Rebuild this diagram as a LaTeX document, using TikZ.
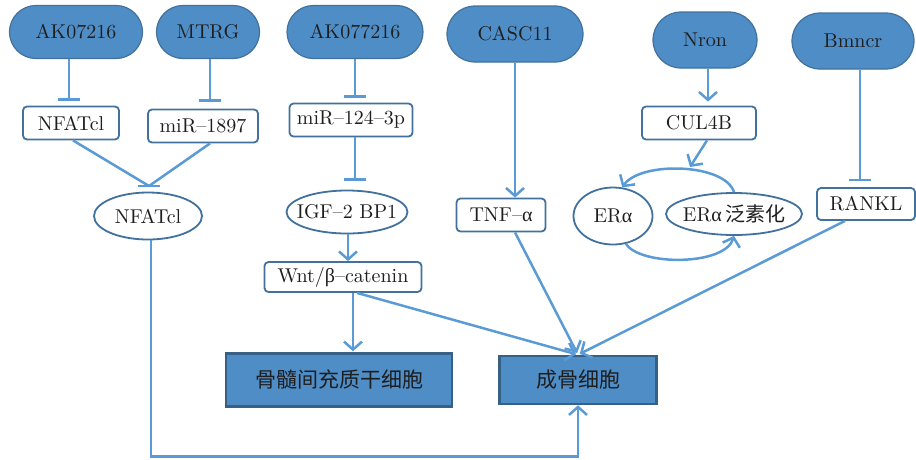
\documentclass[tikz,border=0pt]{standalone}
\usepackage{fontspec}
\setmainfont{lmroman10-regular}[Extension=.otf]
\newfontfamily\cjk{Noto Sans CJK SC}
\newfontfamily\grk{Liberation Serif}
\usetikzlibrary{arrows.meta,shapes.geometric,shapes.misc}
\definecolor{lnc}{HTML}{5B9BD5}
\definecolor{bdc}{HTML}{41719C}
\definecolor{fillc}{HTML}{4F8DC7}
\definecolor{txt}{HTML}{1E1E1E}
\begin{document}
\begin{tikzpicture}[x=1pt,y=-1pt,
 base/.style={text=txt, font=\fontsize{20}{23}\selectfont, inner sep=0pt},
 topel/.style={base, rounded rectangle, draw=bdc, line width=1.2pt, fill=fillc, minimum height=53pt},
 wbox/.style={base, draw=bdc, line width=1.8pt, fill=white, rounded corners=4pt, minimum height=33pt},
 wel/.style={base, ellipse, draw=bdc, line width=1.8pt, fill=white},
 bbox/.style={base, draw=bdc!85!black, line width=2.5pt, fill=fillc, font=\cjk\fontsize{21}{24}\selectfont},
 conn/.style={draw=lnc, line width=2.5pt},
 arr/.style={conn, -{Straight Barb[length=8pt,width=18pt]}},
 inh/.style={conn, -{Bar[width=22pt]}},
]
\useasboundingbox (0,0) rectangle (916,459);

% top row
\node[topel, minimum width=133pt] (ak1) at (76,32) {AK07216};
\node[topel, minimum width=103pt] (mtrg) at (208,32) {MTRG};
\node[topel, minimum width=136pt] (ak2) at (355,32) {AK077216};
\node[topel, minimum width=136pt, minimum height=56pt] (casc) at (515,34) {CASC11};
\node[topel, minimum width=104pt, minimum height=56pt] (nron) at (705,40) {Nron};
\node[topel, minimum width=122pt, minimum height=56pt] (bmn) at (853,41) {Bmncr};

% second row
\node[wbox, minimum width=96pt] (nfA) at (71,123) {NFATcl};
\node[wbox, minimum width=110pt] (mir1) at (203,126) {miR--1897};
\node[wbox, minimum width=123pt] (mir2) at (351,120) {miR--124--3p};
\node[wbox, minimum width=114pt] (cul) at (699,123) {CUL4B};

% third row
\node[wel, minimum width=108pt, minimum height=47pt] (nfB) at (148,216) {\makebox[0pt]{NFATcl}};
\node[wel, minimum width=121pt, minimum height=43pt] (igf) at (347,212) {\makebox[0pt]{IGF--2 BP1}};
\node[wbox, minimum width=89pt] (tnf) at (501,215) {TNF--{\grk α}};
\node[wel, minimum width=79pt, minimum height=57pt] (era) at (613,216) {\makebox[0pt]{ER{\grk α}}};
\node[wel, minimum width=136pt, minimum height=42pt] (eru) at (734,214) {\makebox[0pt]{ER{\grk α}\,{\cjk 泛素化}}};
\node[wbox, minimum width=98pt, minimum height=32pt] (rankl) at (866,204) {RANKL};
\node[wbox, minimum width=157pt, minimum height=30pt] (wnt) at (343,277) {Wnt/{\grk β}--catenin};

% bottom
\node[bbox, minimum width=226pt, minimum height=53pt] (bm) at (339,380) {骨髓间充质干细胞};
\node[bbox, minimum width=157pt, minimum height=48pt] (ob) at (578,380) {成骨细胞};

% connectors
\draw[inh, shorten >=5pt] ([xshift=-7pt]ak1.south) -- ([xshift=-7pt]ak1.south |- nfA.north);
\draw[inh, shorten >=7pt] ([xshift=2pt]mtrg.south) -- ([xshift=2pt]mtrg.south |- mir1.north);
\draw[inh, shorten >=5pt] (ak2.south) -- (ak2.south |- mir2.north);
\draw[inh, shorten >=9pt] ([xshift=4pt]mir2.south) -- ([xshift=4pt]mir2.south |- igf.north);

\coordinate (jn) at (149,186);
\draw[conn] ([xshift=2pt]nfA.south) -- (jn);
\draw[conn] ([xshift=7pt]mir1.south) -- (jn);
\draw[conn] ([xshift=-11pt]jn) -- ([xshift=11pt]jn);

\draw[arr] ([xshift=1pt]igf.south) -- ([xshift=1pt]igf.south |- wnt.north);
\draw[arr, shorten >=1pt] ([xshift=10pt]wnt.south) -- ([xshift=10pt]wnt.south |- bm.north);
\draw[arr, shorten >=2pt] ([xshift=14pt]wnt.south) -- (ob.north);
\draw[arr] (casc.south) -- (casc.south |- tnf.north);
\draw[arr, shorten >=2pt] ([xshift=14pt]tnf.south) -- (ob.north);
\draw[arr, shorten >=2pt] ([xshift=-21pt]rankl.south) -- (ob.north);
\draw[inh, shorten >=6pt] ([xshift=7pt]bmn.south) -- ([xshift=7pt]bmn.south |- rankl.north);
\draw[arr, shorten >=4pt] ([xshift=3pt]nron.south) -- ([xshift=3pt]nron.south |- cul.north);

\coordinate (cend) at (690,167);
\draw[arr] ([xshift=8pt]cul.south) -- (cend);

\draw[arr] (eru.north) .. controls (725,163) and (640,161) .. (era.72);
\draw[arr] (era.-65) .. controls (640,266) and (725,266) .. (eru.south);

\draw[arr] ([xshift=3pt]nfB.south) -- ++(0,216) -| (ob.south);
\end{tikzpicture}
\end{document}
